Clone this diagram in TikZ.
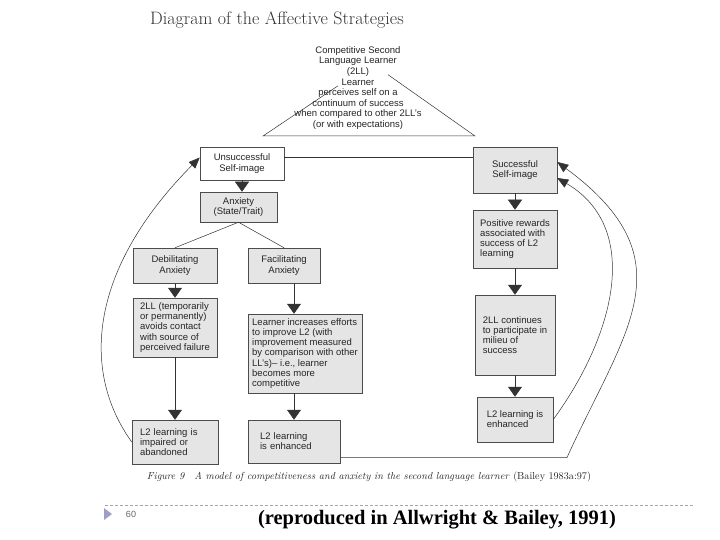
\documentclass[tikz,border=0pt]{standalone}
\usepackage{fontspec}
\newfontfamily\boxfont{Liberation Sans}
\newfontfamily\slidefont{Liberation Serif}
\usepackage{tikz}
\usetikzlibrary{arrows.meta}
\usetikzlibrary{calc}

\begin{document}
\begin{tikzpicture}[
  x = 1pt, y = -1pt,
  > = {Triangle[width=14pt,length=10pt]},
  box/.style = {draw=black!70,fill=black!10,inner sep=0pt,align=center,text=black!85,
                font=\boxfont\fontsize{9.5}{10.2}\selectfont},
  boxl/.style = {box,align=left},
  curve/.style = {-{Triangle[width=9pt,length=11pt]}},
  every path/.style = {line width=.5pt}
  ]
  \fill[white] (0,0) rectangle (720,540);
  \useasboundingbox (0,0) rectangle (720,540);

  \node[font=\fontsize{18}{20}\selectfont,text=black!80] (@title) at (277,20) {Diagram of the Affective Strategies};

  % the learner triangle
  \draw[black!80] (338,85.8) -- (263,136) -- (475,136) -- (388,74.7);
  \node[align=center,inner sep=0pt,text=black!85,font=\boxfont\fontsize{9.5}{10.6}\selectfont] (@tri) at (358,88)
    {Competitive Second\\Language Learner\\(2LL)\\Learner\\perceives self on a\\continuum of success\\when compared to other 2LL’s\\(or with expectations)};

  \node[box,fill=white,minimum width=84pt,minimum height=33pt] (@unsucc) at (242,163.5) {Unsuccessful\\Self-image};
  \node[box,minimum width=77pt,minimum height=30pt] (@anx) at (238.5,207) {Anxiety\\(State/Trait)};
  \node[box,minimum width=84pt,minimum height=46pt] (@succ) at (515,170) {Successful\\Self-image};

  \node[box,minimum width=84pt,minimum height=35pt] (@deb) at (175,265.5) {Debilitating\\Anxiety};
  \node[box,minimum width=72pt,minimum height=35pt] (@fac) at (284,265.5) {Facilitating\\Anxiety};

  \node[boxl,minimum width=84pt,minimum height=59pt] (@avoid) at (175,327.5)
    {2LL (temporarily\\or permanently)\\avoids contact\\with source of\\perceived failure};
  \node[boxl,minimum width=114pt,minimum height=79pt] (@learn) at (305,353.5)
    {Learner increases efforts\\to improve L2 (with\\improvement measured\\by comparison with other\\LL’s)– i.e., learner\\becomes more\\competitive};
  \node[boxl,minimum width=84pt,minimum height=58pt] (@pos) at (515,239)
    {Positive rewards\\associated with\\success of L2\\learning};
  \node[boxl,minimum width=80pt,minimum height=80pt] (@cont) at (515,335)
    {2LL continues\\to participate in\\milieu of\\success};

  \node[boxl,text width=70pt,inner xsep=8pt,minimum height=44pt] (@impair) at (175,442)
    {L2 learning is\\impaired or\\abandoned};
  \node[boxl,text width=68pt,inner xsep=12pt,minimum height=43pt] (@enhm) at (294,441.5)
    {L2 learning\\is enhanced};
  \node[boxl,minimum width=76pt,minimum height=45pt] (@enhr) at (515,419.5)
    {L2 learning is\\enhanced};

  \begin{scope}[black!80]
    \coordinate (@h) at ([yshift=6pt]@unsucc.east);
    \draw (@h) -- (@h -| @succ.west);
    \draw[->] (@unsucc.south) -- (@unsucc.south |- @anx.north);
    \draw (@anx.south) -- (@deb.north);
    \draw (@anx.south) -- (@fac.north);
    \draw[->] (@deb.south) -- (@avoid.north);
    \draw[->] (@avoid.south) -- (@impair.north);
    \draw[->] (@fac.south -| @enhm.north) -- (@learn.north -| @enhm.north);
    \draw[->] (@learn.south -| @enhm.north) -- (@enhm.north);
    \draw[->] (@succ.south) -- (@pos.north);
    \draw[->] (@pos.south) -- (@cont.north);
    \draw[->] (@cont.south) -- (@enhr.north);

    % feedback loops
    \draw[curve] (@impair.west) .. controls (80,370) and (90,268) .. ([yshift=6pt]@unsucc.west);
    \coordinate (@corner) at (567,457.5);
    \draw[curve] ([yshift=-16pt]@enhm.east) -- (@corner) .. controls (625,330) and (690,260) .. ([yshift=8pt]@succ.east);
    \draw[curve] (@enhr.east) .. controls (615,335) and (642,228) .. ([yshift=-8pt]@succ.east);
  \end{scope}

  \node[font=\fontsize{10.2}{12}\selectfont,text=black!85] (@cap) at (369,477)
    {\itshape Figure 9\quad A model of competitiveness and anxiety in the second language learner\/ \upshape(Bailey 1983a:97)};

  % slide footer
  \draw[black!35,dash pattern=on 3pt off 2pt] (105,505) -- (695,505);
  \fill[blue!25!gray!60] (104,508) -- (112,514) -- (104,520) -- cycle;
  \node[font=\boxfont\fontsize{9}{10}\selectfont,text=black!60] (@page) at (131,514) {60};
  \node[font=\slidefont\bfseries\fontsize{20.5}{24}\selectfont] (@src) at (437,520) {(reproduced in Allwright \& Bailey, 1991)};
\end{tikzpicture}
\end{document}
